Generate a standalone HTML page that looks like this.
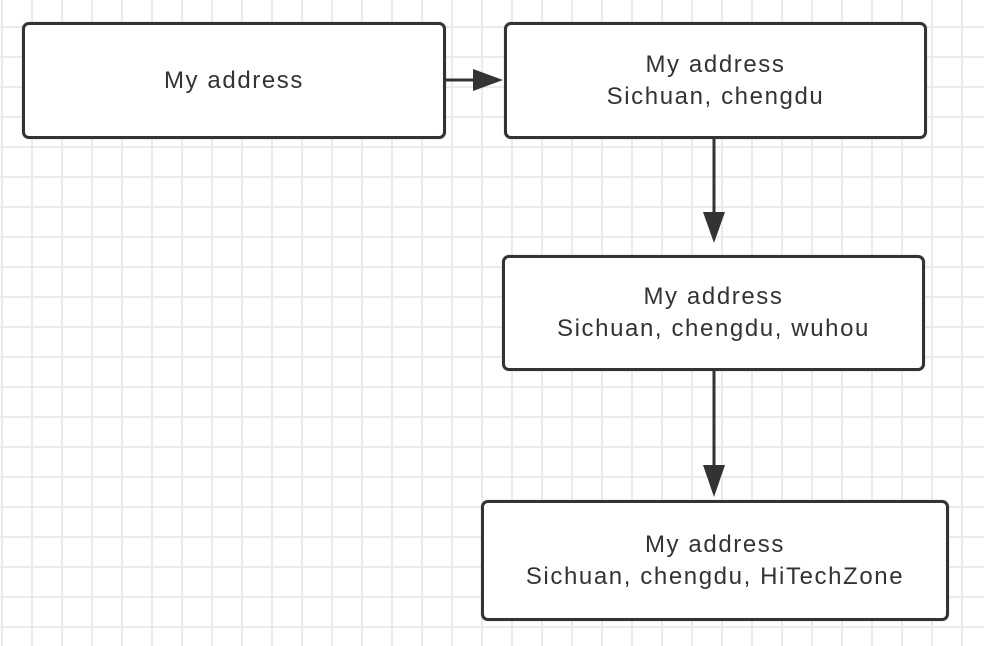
<!DOCTYPE html>
<html><head><style>
body{margin:0;width:984px;height:646px;overflow:hidden;background:#fff;
background-image:linear-gradient(to right,#ebebeb 2px,transparent 2px),linear-gradient(to bottom,#ebebeb 2px,transparent 2px);
background-size:30px 30px;background-position:1px -4px;position:relative;font-family:"Liberation Sans",sans-serif;}
.b{position:absolute;box-sizing:border-box;border:3px solid #333;border-radius:7px;background:#fff;display:flex;align-items:center;justify-content:center;text-align:center;color:#333;font-size:24px;letter-spacing:1.6px;line-height:32px;box-shadow:0 0 1px #999;}
svg{position:absolute;left:0;top:0}
</style></head><body>
<div class="b" style="left:22px;top:22px;width:424px;height:117px;">My address</div>
<div class="b" style="left:504px;top:22px;width:423px;height:117px;">My address<br>Sichuan, chengdu</div>
<div class="b" style="left:502px;top:255px;width:423px;height:116px;">My address<br>Sichuan, chengdu, wuhou</div>
<div class="b" style="left:481px;top:500px;width:468px;height:121px;">My address<br>Sichuan, chengdu, HiTechZone</div>
<svg width="984" height="646">
<g stroke="#333" stroke-width="3" fill="#333">
<line x1="446" y1="80" x2="475" y2="80"/>
<polygon points="473,69 503,80 473,91" stroke="none"/>
<line x1="714" y1="139" x2="714" y2="214"/>
<polygon points="703,212 714,243 725,212" stroke="none"/>
<line x1="714" y1="371" x2="714" y2="467"/>
<polygon points="703,465 714,497 725,465" stroke="none"/>
</g></svg>
</body></html>
